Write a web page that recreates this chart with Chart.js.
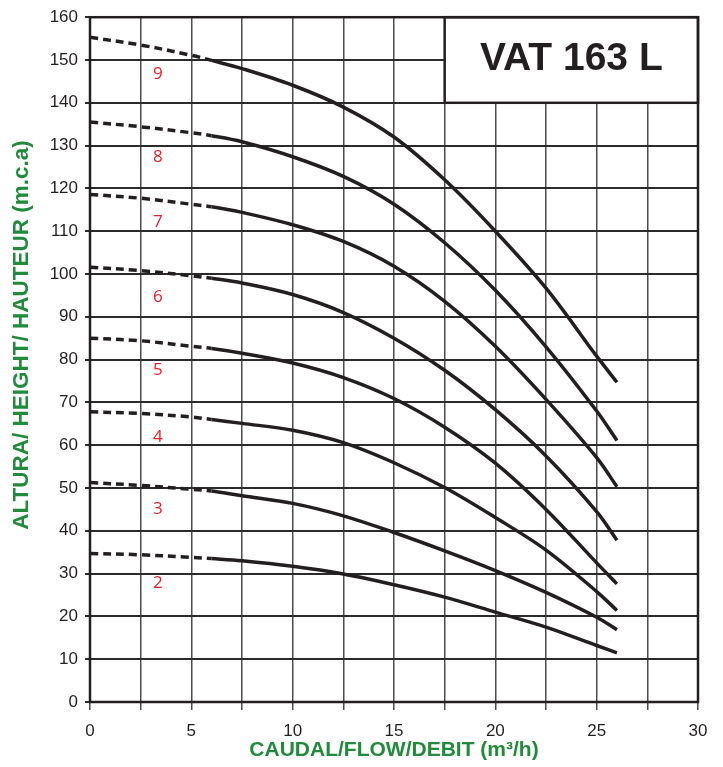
<!DOCTYPE html>
<html>
<head>
<meta charset="utf-8">
<script src="https://cdn.jsdelivr.net/npm/chart.js@4.4.0/dist/chart.umd.min.js"></script>
<style>
  html, body { margin: 0; padding: 0; background: #fff; }
  #wrap { width: 723px; height: 767px; }
</style>
</head>
<body>
<div id="wrap"><canvas id="curves" width="723" height="767"></canvas></div>
<script>
var flow = [0, 2.5, 5, 6, 7.5, 10, 12.5, 15, 17.5, 20, 22.5, 25, 26];
// head (m.c.a) per stage count
var head2 = [34.7, 34.4, 33.8, 33.5, 33.0, 31.7, 29.9, 27.4, 24.5, 21.0, 17.5, 13.2, 11.5];
var head3 = [51.3, 50.6, 49.7, 49.3, 48.2, 46.4, 43.5, 39.6, 35.3, 30.7, 25.6, 19.8, 16.9];
var head4 = [67.8, 67.4, 66.6, 66.0, 65.1, 63.5, 60.6, 55.9, 50.1, 43.1, 35.5, 25.8, 21.4];
var head5 = [85.0, 84.4, 83.1, 82.6, 81.5, 79.2, 75.8, 70.9, 64.2, 55.8, 45.0, 32.5, 27.6];
var head6 = [101.6, 100.8, 99.6, 99.0, 97.9, 95.2, 91.0, 85.0, 77.5, 68.3, 57.5, 44.5, 37.8];
var head7 = [118.6, 117.7, 116.3, 115.7, 114.4, 111.5, 107.6, 101.8, 93.6, 83.1, 70.7, 57.1, 50.3];
var head8 = [135.5, 134.4, 133.0, 132.3, 130.9, 127.4, 122.8, 116.3, 107.3, 96.2, 83.0, 68.0, 61.1];
var head9 = [155.3, 153.5, 151.1, 149.9, 148.0, 144.1, 139.0, 132.0, 122.0, 110.0, 96.7, 80.8, 74.7];

var stages = ['2', '3', '4', '5', '6', '7', '8', '9'];
var stageLabelX = 3.35;
var stageLabelY = [27.7, 45.1, 61.9, 77.5, 94.5, 112.0, 127.4, 146.7];
var dashEnd = 6; // curves are dotted below this flow

var title = 'VAT 163 L';
var titleBox = { x0: 17.5, x1: 30, y0: 140, y1: 160 };
var yTitle = 'ALTURA/ HEIGHT/ HAUTEUR (m.c.a)';

var ink = '#231f20';
var green = '#1f8b3b';
var sans = '"Liberation Sans", Arial, sans-serif';

function pts(ys) {
    return flow.map(function (f, i) { return { x: f, y: ys[i] }; });
}

var heads = [head2, head3, head4, head5, head6, head7, head8, head9];
var datasets = heads.map(function (h, i) {
    return {
        label: stages[i],
        data: pts(h),
        borderColor: ink,
        borderWidth: 3.5,
        borderCapStyle: 'butt',
        pointRadius: 0,
        tension: 0.35,
        segment: {
            borderDash: function (ctx) {
                return ctx.p1.parsed.x <= dashEnd ? [8, 5] : undefined;
            }
        }
    };
});

// white title box over the grid, frame around the plot
var boxPlugin = {
    id: 'boxes',
    beforeDatasetsDraw: function (chart) {
        var c = chart.ctx, a = chart.chartArea;
        var xs = chart.scales.x, ys = chart.scales.y;
        var l = xs.getPixelForValue(titleBox.x0), r = xs.getPixelForValue(titleBox.x1);
        var t = ys.getPixelForValue(titleBox.y1), b = ys.getPixelForValue(titleBox.y0);
        c.save();
        c.fillStyle = '#fff';
        c.fillRect(l, t, r - l, b - t);
        c.strokeStyle = ink;
        c.lineWidth = 2.5;
        c.strokeRect(l, t, r - l, b - t);
        c.fillStyle = ink;
        c.font = 'bold 39px ' + sans;
        c.textAlign = 'center';
        c.textBaseline = 'middle';
        c.fillText(title, (l + r) / 2, (t + b) / 2 - 1);
        c.strokeRect(a.left, a.top, a.right - a.left, a.bottom - a.top);
        c.restore();
    },
    afterDatasetsDraw: function (chart) {
        var c = chart.ctx;
        var xs = chart.scales.x, ys = chart.scales.y;
        c.save();
        c.fillStyle = '#ed1c24';
        c.font = '17px "Open Sans", sans-serif';
        c.textAlign = 'center';
        c.textBaseline = 'middle';
        stages.forEach(function (s, i) {
            c.fillText(s, xs.getPixelForValue(stageLabelX), ys.getPixelForValue(stageLabelY[i]));
        });
        // y axis title sits a bit above the middle in the original
        c.translate(22, 335);
        c.rotate(-Math.PI / 2);
        c.fillStyle = green;
        c.font = 'bold 22.5px ' + sans;
        c.fillText(yTitle, 0, 0);
        c.restore();
    }
};

var ctx = document.getElementById('curves').getContext('2d');
var chart = new Chart(ctx, {
    type: 'line',
    data: { datasets: datasets },
    options: {
        responsive: false,
        animation: false,
        layout: { padding: { top: 17, right: 25, left: 0, bottom: 0 } },
        plugins: { legend: { display: false }, tooltip: { enabled: false } },
        scales: {
            x: {
                type: 'linear',
                min: 0, max: 30,
                afterFit: function (s) { s.height = 65; },
                border: { display: false },
                grid: { color: '#4d4d4d', lineWidth: 1.5, tickLength: 8 },
                ticks: {
                    stepSize: 2.5, autoSkip: false, maxRotation: 0, padding: 11,
                    color: ink,
                    font: { family: sans, size: 17 },
                    callback: function (v) { return v % 5 === 0 ? v : ''; }
                },
                title: {
                    display: true,
                    text: 'CAUDAL/FLOW/DEBIT (m\u00b3/h)',
                    color: green,
                    font: { family: sans, size: 21, weight: 'bold' },
                    padding: { top: 0, bottom: 4 }
                }
            },
            y: {
                min: 0, max: 160,
                afterFit: function (s) { s.width = 90; },
                border: { display: false },
                grid: { color: '#2b2b2b', lineWidth: 2, tickLength: 5 },
                ticks: {
                    stepSize: 10, padding: 7,
                    color: ink,
                    font: { family: sans, size: 17 }
                }
            }
        }
    },
    plugins: [boxPlugin]
});
</script>
</body>
</html>
